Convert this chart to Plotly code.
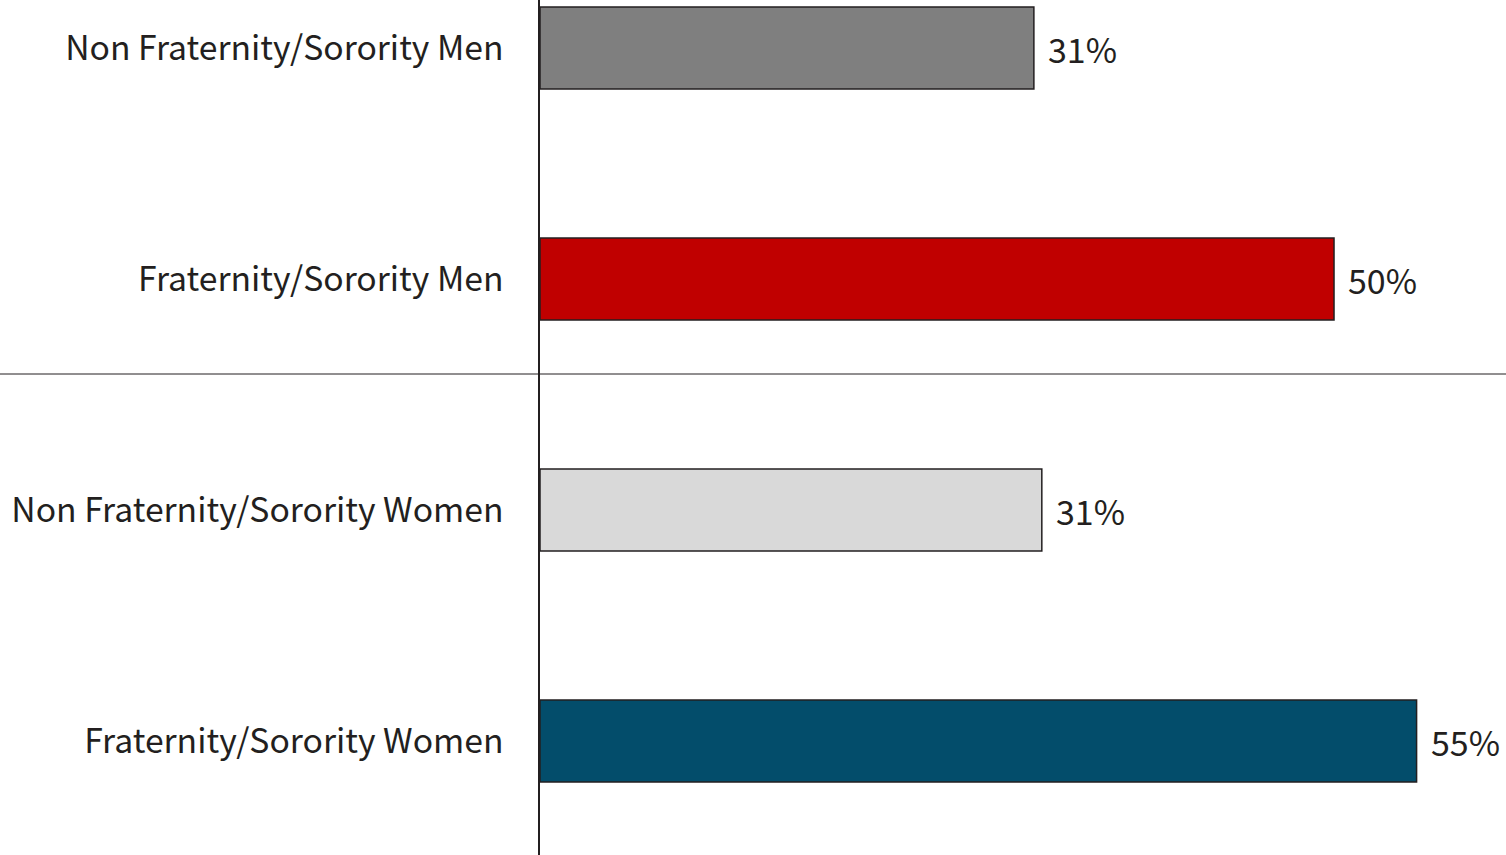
import plotly.graph_objects as go

categories = ["Fraternity/Sorority Women", "Non Fraternity/Sorority Women",
              "Fraternity/Sorority Men", "Non Fraternity/Sorority Men"]
values = [55.2, 31.6, 50.0, 31.1]
labels = ["55%", "31%", "50%", "31%"]
colors = ["#034D6B", "#D9D9D9", "#C00000", "#7F7F7F"]

FONT = "Noto Sans CJK JP"
TXT = "#231F20"

fig = go.Figure()
fig.add_trace(go.Bar(
    y=categories, x=values, orientation="h",
    marker=dict(color=colors, line=dict(color=TXT, width=1.5)),
    width=0.355,
    hoverinfo="skip",
))

for cat, val, lab in zip(categories, values, labels):
    fig.add_annotation(x=val, y=cat, text=lab, showarrow=False,
                       xanchor="left", yanchor="middle", xshift=12, yshift=0,
                       font=dict(family=FONT, size=34, color=TXT))

fig.add_shape(type="line", xref="paper", yref="paper",
              x0=-0.6, x1=1, y0=1-374/855, y1=1-374/855,
              line=dict(color=TXT, width=1))

fig.update_layout(
    width=1506, height=855,
    margin=dict(l=540, r=0, t=0, b=0),
    paper_bgcolor="white", plot_bgcolor="white",
    showlegend=False,
    font=dict(family=FONT, color=TXT),
    xaxis=dict(range=[0, 60.83], visible=False),
    yaxis=dict(
        categoryorder="array", categoryarray=categories,
        range=[-0.4935, 3.2078],
        showline=True, linecolor=TXT, linewidth=1.5,
        ticks="", showgrid=False, zeroline=False,
        tickfont=dict(family=FONT, size=33.7, color=TXT),
        ticklabelstandoff=28,
    ),
)

fig.write_html("out.html", config={"displayModeBar": False},
               post_script="document.body.style.margin='0';document.body.style.overflow='hidden';")
